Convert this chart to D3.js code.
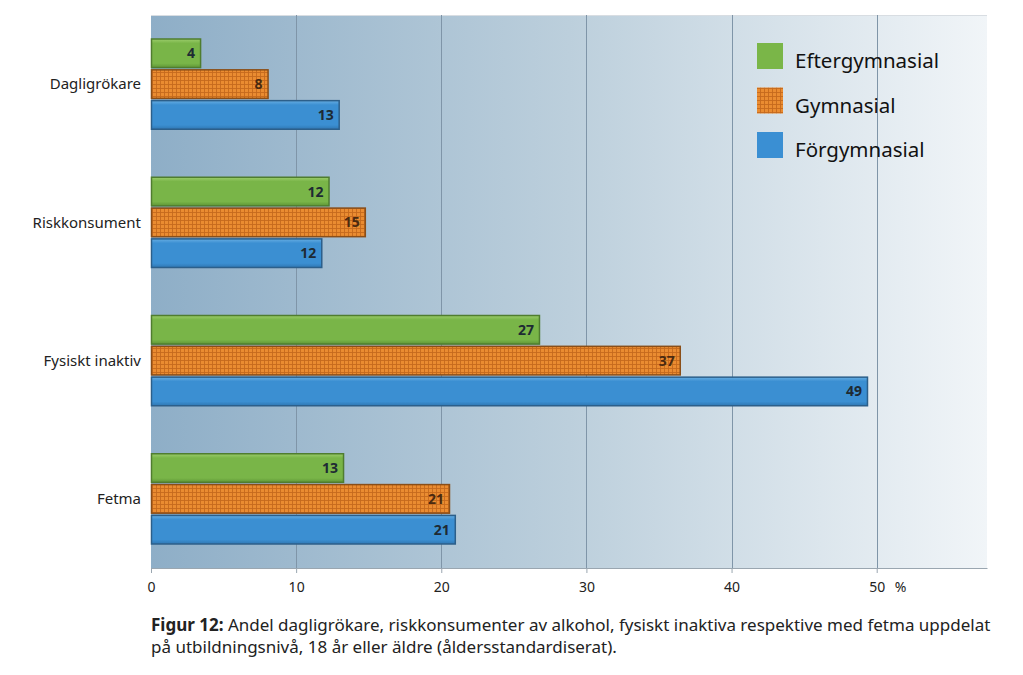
<!DOCTYPE html>
<html><head><meta charset="utf-8">
<script src="https://cdn.jsdelivr.net/npm/d3@7"></script>
<style>body{margin:0;background:#fff;} svg{display:block;font-family:"Noto Sans",sans-serif;}</style>
</head><body>
<svg id="c" width="1023" height="675"></svg>
<script>
const categories = ["Dagligrökare","Riskkonsument","Fysiskt inaktiv","Fetma"];
const seriesNames = ["Eftergymnasial","Gymnasial","Förgymnasial"];
const eftergymnasial = [3.45, 12.3, 26.8, 13.3];
const gymnasial = [8.1, 14.8, 36.5, 20.6];
const forgymnasial = [13.0, 11.8, 49.4, 21.0];
const labelsEfter = ["4","12","27","13"];
const labelsGym = ["8","15","37","21"];
const labelsFor = ["13","12","49","21"];
const xTicks = [0,10,20,30,40,50];
const captionLines = ["Andel dagligrökare, riskkonsumenter av alkohol, fysiskt inaktiva respektive med fetma uppdelat","på utbildningsnivå, 18 år eller äldre (åldersstandardiserat)."];

const seriesVals = [eftergymnasial, gymnasial, forgymnasial];
const seriesLabels = [labelsEfter, labelsGym, labelsFor];
const fills = ["url(#gGreen)","url(#pOrange)","url(#gBlue)"];
const strokes = ["#4f7d2f","#8a4e18","#2c5f8a"];
const legendFills = ["#7ab648","url(#pOrangeL)","#3a8fd3"];

const svg = d3.select("#c");
const L=151,R=987,T=15,B=568;
const x = d3.scaleLinear().domain([0,57.6]).range([L,R]);
const y0 = d3.scaleBand().domain(categories).range([T,B]).paddingInner(0.34).paddingOuter(0.17);
const y1 = d3.scaleBand().domain(seriesNames).range([0,y0.bandwidth()]).paddingInner(0.04);

const defs = svg.append("defs");
const bg = defs.append("linearGradient").attr("id","bgG").attr("x1","0").attr("x2","1").attr("y1","0").attr("y2","0");
bg.append("stop").attr("offset","0").attr("stop-color","#8eaec7");
bg.append("stop").attr("offset","0.5").attr("stop-color","#bccfdc");
bg.append("stop").attr("offset","1").attr("stop-color","#f1f5f8");
function vgrad(id,c1,c2,c3){
  const g=defs.append("linearGradient").attr("id",id).attr("x1","0").attr("x2","0").attr("y1","0").attr("y2","1");
  g.append("stop").attr("offset","0").attr("stop-color",c1);
  g.append("stop").attr("offset","0.15").attr("stop-color",c2);
  g.append("stop").attr("offset","0.85").attr("stop-color",c2);
  g.append("stop").attr("offset","1").attr("stop-color",c3);
}
vgrad("gGreen","#9ccd6c","#79b548","#5f9636");
vgrad("gBlue","#67aee3","#3b8fd2","#2f77b3");
function opattern(id){
  const p=defs.append("pattern").attr("id",id).attr("patternUnits","userSpaceOnUse").attr("width",4).attr("height",4);
  p.append("rect").attr("width",4).attr("height",4).attr("fill","#ea8c31");
  p.append("path").attr("d","M0,0.5H4M0.5,0V4").attr("stroke","#c56a1d").attr("stroke-width",0.9);
}
opattern("pOrange"); opattern("pOrangeL");

svg.append("rect").attr("x",L).attr("y",T).attr("width",R-L).attr("height",B-T).attr("fill","url(#bgG)");
svg.append("line").attr("x1",L).attr("x2",R).attr("y1",T+0.5).attr("y2",T+0.5).attr("stroke","#d8dde2");

// grid
svg.append("g").selectAll("line").data(xTicks.slice(1)).join("line")
  .attr("x1",d=>Math.round(x(d))+0.5).attr("x2",d=>Math.round(x(d))+0.5)
  .attr("y1",T).attr("y2",B).attr("stroke","#7f95a8").attr("stroke-width",1);

// axis
const xa = svg.append("g").attr("transform",`translate(0,${B})`)
  .call(d3.axisBottom(x).tickValues(xTicks).tickSize(5).tickSizeOuter(0).tickPadding(9).tickFormat(d3.format("d")));
xa.select(".domain").attr("stroke","#9aa6b0");
xa.selectAll(".tick line").attr("stroke","#9aa6b0");
xa.selectAll(".tick text").attr("font-size",14).attr("fill","#222").attr("font-family","Noto Sans");
svg.append("text").attr("x",x(50)+18).attr("y",B+24).attr("font-size",14).attr("fill","#222").text("%");

// category labels
svg.append("g").selectAll("text").data(categories).join("text")
  .attr("x",L-10).attr("y",d=>y0(d)+y0.bandwidth()/2).attr("dy","0.35em")
  .attr("text-anchor","end").attr("font-size",15).attr("fill","#222").text(d=>d);

// bars
categories.forEach((c,ci)=>{
  seriesNames.forEach((s,si)=>{
    const v=seriesVals[si][ci];
    const yy=y0(c)+y1(s);
    svg.append("rect").attr("x",L+0.5).attr("y",yy+0.5).attr("width",x(v)-L-1).attr("height",y1.bandwidth()-1)
      .attr("fill",fills[si]).attr("stroke",strokes[si]).attr("stroke-width",1.5);
    svg.append("text").attr("x",x(v)-6).attr("y",yy+y1.bandwidth()/2).attr("dy","0.36em")
      .attr("text-anchor","end").attr("font-size",14).attr("font-weight","bold")
      .attr("fill",si===1?"#4a2a10":"#1e2a33").text(seriesLabels[si][ci]);
  });
});

// legend
const lg = svg.append("g");
seriesNames.forEach((s,i)=>{
  lg.append("rect").attr("x",757).attr("y",43+i*44.5).attr("width",26).attr("height",26).attr("fill",legendFills[i]);
  lg.append("text").attr("x",795).attr("y",61+i*44.5).attr("dy","0.36em").attr("font-size",20.5).attr("fill","#111").text(s);
});

// caption
const cap = svg.append("text").attr("x",151).attr("y",631).attr("font-size",17).attr("fill","#222");
cap.append("tspan").attr("font-weight","bold").text("Figur 12: ");
cap.append("tspan").text(captionLines[0]);
svg.append("text").attr("x",151).attr("y",653).attr("font-size",17).attr("fill","#222").text(captionLines[1]);
</script>
</body></html>
